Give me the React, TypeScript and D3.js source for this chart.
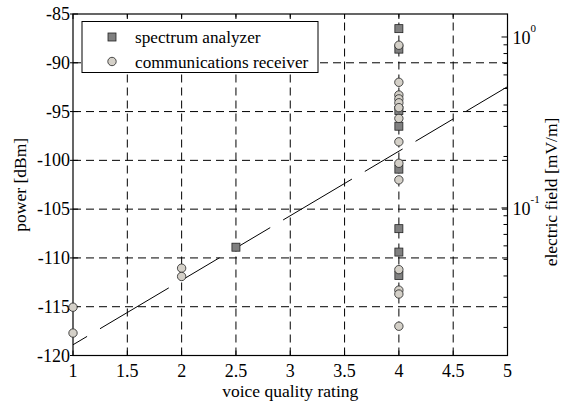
import React from "react";
import * as d3 from "d3";

const xTicks = [1, 1.5, 2, 2.5, 3, 3.5, 4, 4.5, 5];
const yTicks = [-120, -115, -110, -105, -100, -95, -90, -85];
const fieldDomain = [0.0137, 1.363];
const fieldMajor = [0.1, 1];
const fieldMajorExp = ["-1", "0"];

const saX = [2.5, 4, 4, 4, 4, 4, 4, 4, 4];
const saY = [-108.9, -86.5, -88.6, -94.9, -96.5, -100.9, -107.0, -109.4, -111.8];

const crX = [1, 1, 2, 2, 4, 4, 4, 4, 4, 4, 4, 4, 4, 4, 4, 4, 4, 4];
const crY = [-115.05, -117.7, -111.05, -111.9, -88.2, -92.0, -93.3, -93.7, -94.1, -94.6, -95.7, -98.1, -100.3, -102.0, -111.2, -113.3, -113.7, -117.0];

const fitX = [1, 5];
const fitY = [-118.9, -92.45];

const legendLabels = ["spectrum analyzer", "communications receiver"];

const W = 565, H = 402;
const L = 73, R = 507.5, T = 14, B = 355.5;
const FONT = "Liberation Serif, Times New Roman, DejaVu Serif, serif";
const SQ_FILL = "#808080";
const CI_FILL = "#d4d0c8";
const ts = { fontFamily: FONT };

export default function App() {
  const x = d3.scaleLinear().domain([1, 5]).range([L, R]);
  const y = d3.scaleLinear().domain([-120, -85]).range([B, T]);
  const yr = d3.scaleLog().domain(fieldDomain).range([B, T]);
  const minor = yr.ticks().filter((v) => v >= fieldDomain[0] && v <= fieldDomain[1]);
  const line = d3.line<number>().x((_, i) => x(fitX[i])).y((d) => y(d));
  const grid = "8 5";

  return (
    <svg width={W} height={H} style={{ position: "absolute", left: 0, top: 0, background: "#fff", fontFamily: FONT }}>
      <rect x={0} y={0} width={W} height={H} fill="#fff" />
      {xTicks.slice(1, -1).map((t) => (
        <line key={"gx" + t} x1={x(t)} x2={x(t)} y1={B} y2={T} stroke="#000" strokeWidth={1} strokeDasharray={grid} />
      ))}
      {yTicks.slice(1, -1).map((t) => (
        <line key={"gy" + t} x1={L} x2={R} y1={y(t)} y2={y(t)} stroke="#000" strokeWidth={1} strokeDasharray={grid} />
      ))}
      <path d={line(fitY) || ""} fill="none" stroke="#000" strokeWidth={1} strokeDasharray="80 15 44 15 44 15" strokeDashoffset={181.6} />
      <rect x={L} y={T} width={R - L} height={B - T} fill="none" stroke="#000" strokeWidth={1.2} />
      {xTicks.map((t) => (
        <g key={"xt" + t}>
          <line x1={x(t)} x2={x(t)} y1={B} y2={B - 5} stroke="#000" />
          <line x1={x(t)} x2={x(t)} y1={T} y2={T + 5} stroke="#000" />
          <text x={x(t)} y={B + 21} textAnchor="middle" fontSize={18} style={ts}>{t}</text>
        </g>
      ))}
      {yTicks.map((t) => (
        <g key={"yt" + t}>
          <line x1={L - 3} x2={L + 5} y1={y(t)} y2={y(t)} stroke="#000" />
          <text x={L - 3} y={y(t) + 6} textAnchor="end" fontSize={18} style={ts}>{t}</text>
        </g>
      ))}
      {minor.map((v) => {
        const major = fieldMajor.some((m) => Math.abs(m - v) < 1e-9);
        return <line key={"rt" + v} x1={R} x2={R - (major ? 6 : 4)} y1={yr(v)} y2={yr(v)} stroke="#000" />;
      })}
      {fieldMajor.map((v, i) => (
        <text key={"rl" + v} x={R + 5} y={yr(v) + 7} fontSize={18} style={ts}>
          10
          <tspan dy={-12} fontSize={11}>{fieldMajorExp[i]}</tspan>
        </text>
      ))}
      {saX.map((v, i) => (
        <rect key={"sa" + i} x={x(v) - 4} y={y(saY[i]) - 4} width={8} height={8} fill={SQ_FILL} stroke="#222" strokeWidth={0.8} />
      ))}
      {crX.map((v, i) => (
        <circle key={"cr" + i} cx={x(v)} cy={y(crY[i])} r={4.2} fill={CI_FILL} stroke="#222" strokeWidth={0.8} />
      ))}
      <rect x={82} y={21.5} width={236} height={51} fill="#fff" stroke="#000" strokeWidth={1} />
      <rect x={108} y={33} width={8} height={8} fill={SQ_FILL} stroke="#222" strokeWidth={0.8} />
      <circle cx={112} cy={61.5} r={4.2} fill={CI_FILL} stroke="#222" strokeWidth={0.8} />
      <text x={135} y={42.5} fontSize={17.2} style={ts}>{legendLabels[0]}</text>
      <text x={135} y={67.5} fontSize={17.2} style={ts}>{legendLabels[1]}</text>
      <text x={(L + R) / 2} y={397} textAnchor="middle" fontSize={17.5} style={ts}>voice quality rating</text>
      <text transform={`translate(26,${(T + B) / 2}) rotate(-90)`} textAnchor="middle" fontSize={17.5} style={ts}>power [dBm]</text>
      <text transform={`translate(557,192) rotate(-90)`} textAnchor="middle" fontSize={17.5} style={ts}>electric field [mV/m]</text>
    </svg>
  );
}
